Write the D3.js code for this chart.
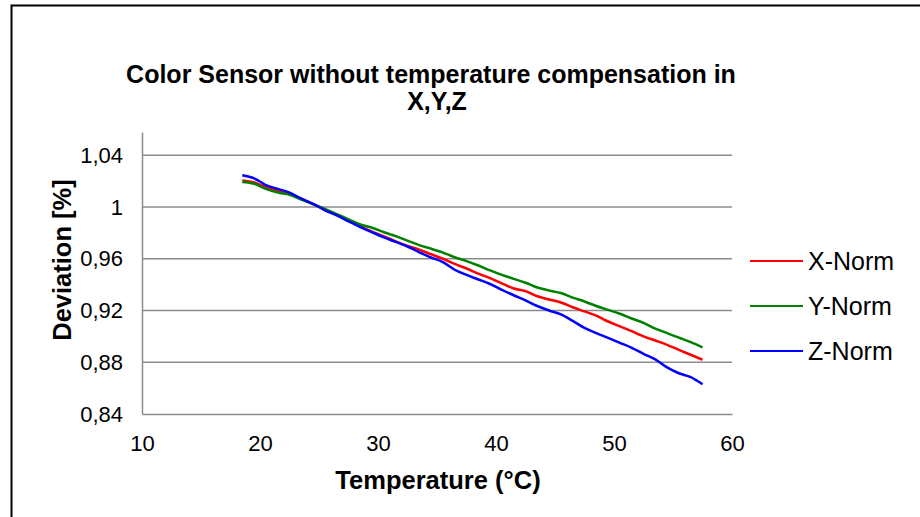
<!DOCTYPE html>
<meta charset="utf-8">
<script src="https://d3js.org/d3.v7.min.js"></script>
<style>
  body { margin: 0; background: #fff; }
  text { font-family: "Liberation Sans", Arial, sans-serif; }
</style>
<div id="my_dataviz"></div>
<script>

// temperature (°C) readings
var temps = [18.5, 19.5, 20.5, 21.5, 22.5, 23.5, 24.5, 25.5, 26.5, 27.5,
  28.5, 29.5, 30.5, 31.5, 32.5, 33.5, 34.5, 35.5, 36.5, 37.5,
  38.5, 39.5, 40.5, 41.5, 42.5, 43.5, 44.5, 45.5, 46.5, 47.5,
  48.5, 49.5, 50.5, 51.5, 52.5, 53.5, 54.5, 55.5, 56.5, 57.5];

var xNorm = [1.0206, 1.0190, 1.0152, 1.0125, 1.0100, 1.0065, 1.0022, 0.9980, 0.9940, 0.9897,
  0.9850, 0.9810, 0.9772, 0.9735, 0.9700, 0.9670, 0.9635, 0.9600, 0.9560, 0.9525,
  0.9485, 0.9450, 0.9410, 0.9370, 0.9350, 0.9310, 0.9285, 0.9262, 0.9225, 0.9193,
  0.9160, 0.9115, 0.9078, 0.9040, 0.9000, 0.8968, 0.8935, 0.8895, 0.8858, 0.8820];

var yNorm = [1.0193, 1.0180, 1.0140, 1.0112, 1.0095, 1.0058, 1.0022, 0.9985, 0.9945, 0.9905,
  0.9865, 0.9840, 0.9805, 0.9775, 0.9740, 0.9705, 0.9678, 0.9648, 0.9612, 0.9582,
  0.9548, 0.9510, 0.9475, 0.9445, 0.9415, 0.9378, 0.9355, 0.9335, 0.9300, 0.9270,
  0.9235, 0.9205, 0.9175, 0.9138, 0.9105, 0.9060, 0.9025, 0.8990, 0.8955, 0.8915];

var zNorm = [1.0245, 1.0222, 1.0170, 1.0140, 1.0112, 1.0065, 1.0025, 0.9975, 0.9935, 0.9890,
  0.9845, 0.9805, 0.9765, 0.9730, 0.9695, 0.9650, 0.9610, 0.9574, 0.9515, 0.9475,
  0.9440, 0.9405, 0.9360, 0.9318, 0.9278, 0.9235, 0.9200, 0.9170, 0.9120, 0.9065,
  0.9025, 0.8988, 0.8950, 0.8912, 0.8865, 0.8822, 0.8760, 0.8715, 0.8685, 0.8630];

var seriesNames = ["X-Norm", "Y-Norm", "Z-Norm"];
var seriesColors = ["#ff0000", "#008000", "#0000ff"];
var xTicks = [10, 20, 30, 40, 50, 60];
var yTicks = [0.84, 0.88, 0.92, 0.96, 1.0, 1.04];

var series = [xNorm, yNorm, zNorm].map(function (vals, i) {
  return { name: seriesNames[i], color: seriesColors[i],
           values: vals.map(function (v, j) { return { t: temps[j], v: v }; }) };
});

var W = 920, H = 517;
var plot = { left: 142, right: 732, top: 132, bottom: 414 };
var FONT = "'Liberation Sans', Arial, sans-serif";

var svg = d3.select("#my_dataviz")
  .append("svg")
    .attr("width", W)
    .attr("height", H);

// outer frame (cut off at the right and bottom like the original)
svg.append("rect")
  .attr("x", 11.5).attr("y", 5.5)
  .attr("width", W + 20).attr("height", H + 20)
  .attr("fill", "none").attr("stroke", "#000").attr("stroke-width", 2);

var x = d3.scaleLinear()
  .domain([10, 60])
  .range([plot.left, plot.right]);

var y = d3.scaleLinear()
  .domain([0.84, 1.058])
  .range([plot.bottom, plot.top]);

var fmt = function (d) { return String(+d.toFixed(2)).replace(".", ","); };

// gridlines
svg.append("g")
  .selectAll("line")
  .data(yTicks.filter(function (d) { return d > 0.84; }))
  .enter()
  .append("line")
    .attr("x1", plot.left).attr("x2", plot.right)
    .attr("y1", function (d) { return y(d); })
    .attr("y2", function (d) { return y(d); })
    .attr("stroke", "#8c8c8c").attr("stroke-width", 1.5);

// Y axis
var yAxis = svg.append("g")
  .attr("transform", "translate(" + plot.left + ",0)")
  .call(d3.axisLeft(y).tickValues(yTicks).tickSize(0).tickPadding(19).tickFormat(fmt));
yAxis.select(".domain").attr("stroke", "#8c8c8c").attr("stroke-width", 1.5);
yAxis.selectAll("text").attr("font-size", 22).attr("fill", "#000")
  .style("font-family", FONT);

// X axis
var xAxis = svg.append("g")
  .attr("transform", "translate(0," + plot.bottom + ")")
  .call(d3.axisBottom(x).tickValues(xTicks).tickSize(0).tickPadding(21));
xAxis.select(".domain").attr("stroke", "#8c8c8c").attr("stroke-width", 1.5);
xAxis.selectAll("text").attr("font-size", 22).attr("fill", "#000")
  .style("font-family", FONT);

// lines
var line = d3.line()
  .x(function (d) { return x(d.t); })
  .y(function (d) { return y(d.v); })
  .curve(d3.curveMonotoneX);

svg.append("g")
  .selectAll("path")
  .data(series)
  .enter()
  .append("path")
    .attr("d", function (d) { return line(d.values); })
    .attr("fill", "none")
    .attr("stroke", function (d) { return d.color; })
    .attr("stroke-width", 2.5)
    .attr("stroke-linejoin", "round");

// title (two lines)
svg.append("text")
  .attr("x", 431).attr("y", 83)
  .attr("text-anchor", "middle")
  .attr("font-size", 25).attr("font-weight", "bold")
  .text("Color Sensor without temperature compensation in");
svg.append("text")
  .attr("x", 437).attr("y", 110)
  .attr("text-anchor", "middle")
  .attr("font-size", 25).attr("font-weight", "bold")
  .text("X,Y,Z");

// axis titles
svg.append("text")
  .attr("x", 438).attr("y", 489)
  .attr("text-anchor", "middle")
  .attr("font-size", 25.5).attr("font-weight", "bold")
  .text("Temperature (°C)");

svg.append("text")
  .attr("transform", "translate(71,260) rotate(-90)")
  .attr("text-anchor", "middle")
  .attr("font-size", 25.5).attr("font-weight", "bold")
  .text("Deviation [%]");

// legend
var legend = svg.append("g")
  .selectAll("g")
  .data(series)
  .enter()
  .append("g")
    .attr("transform", function (d, i) { return "translate(750," + (261 + i * 45) + ")"; });
legend.append("line")
  .attr("x1", 0).attr("x2", 53)
  .attr("stroke", function (d) { return d.color; })
  .attr("stroke-width", 2);
legend.append("text")
  .attr("x", 58).attr("y", 9)
  .attr("font-size", 25)
  .text(function (d) { return d.name; });

</script>
